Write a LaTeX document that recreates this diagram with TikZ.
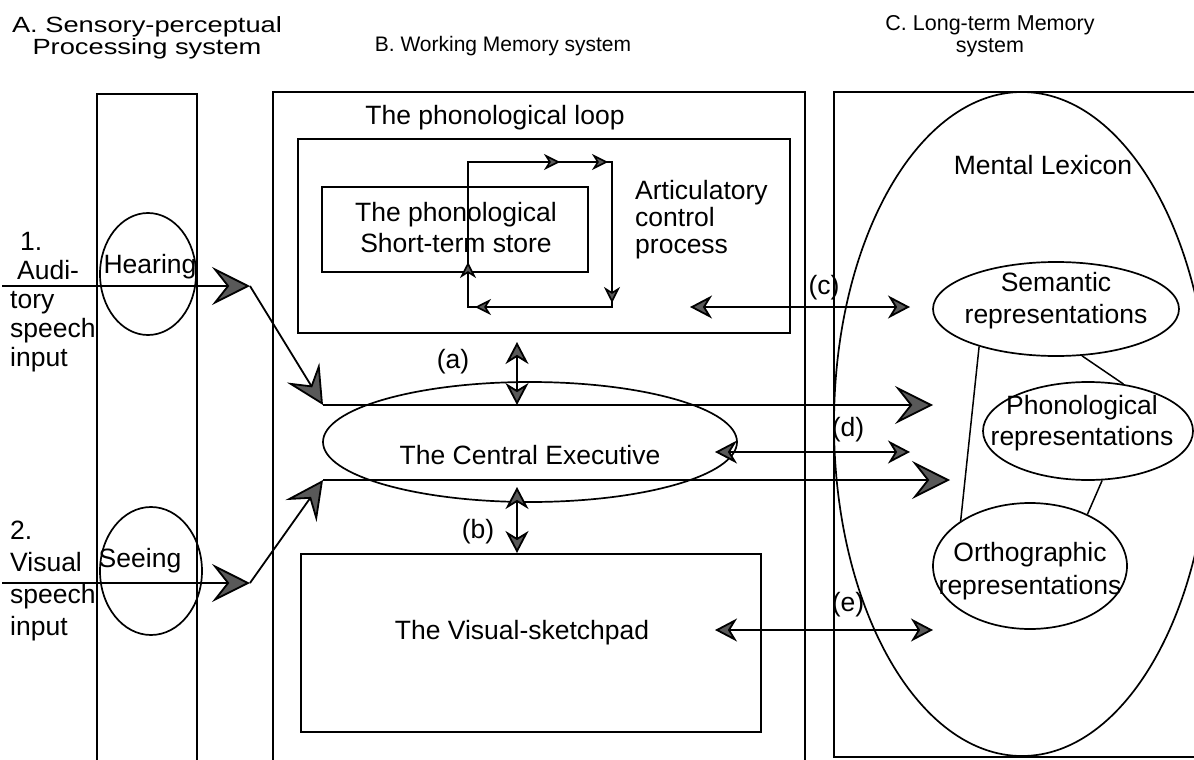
\documentclass[tikz,border=0pt]{standalone}
\usepackage{fontspec}
\setmainfont{Liberation Sans}
\newfontfamily\hdrfont{Liberation Sans}[FakeStretch=1.24]
\usetikzlibrary{arrows.meta,shapes.geometric}
\tikzset{
  ln/.style={line width=1.8pt},
  bigtip/.tip={Stealth[length=38pt,width=38pt,inset=15pt,fill=black!65]},
  midtip/.tip={Stealth[length=22pt,width=23pt,inset=7pt,fill=black!65]},
  smalltip/.tip={Stealth[length=16pt,width=16pt,inset=5pt,fill=black!65]},
  txt/.style={font=\fontsize{26.5}{31}\selectfont, inner sep=0pt, align=center},
  hdr/.style={font=\fontsize{21.5}{22}\selectfont, inner sep=0pt, align=center},
  ell/.style={ellipse, draw, line width=1.7pt, inner sep=0pt},
  box/.style={rectangle, draw, line width=1.8pt, inner sep=0pt},
}
\begin{document}
\begin{tikzpicture}[x=1pt,y=-1pt]
\useasboundingbox (0,0) rectangle (1194,760);
\clip (0,0) rectangle (1194,760);
\fill[white] (0,0) rectangle (1194,760);

% headers
\node[hdr, font=\hdrfont\fontsize{22}{22}\selectfont] (hA) at (147,38) {A. Sensory-perceptual\\Processing system};
\node[hdr, font=\fontsize{21}{22}\selectfont] (hB) at (503,46) {B. Working Memory system};
\node[hdr] (hC) at (990,36) {C. Long-term Memory\\system};

% column frames
\draw[ln] (97,770) -- (97,94) -- (197,94) -- (197,770);
\draw[ln] (273,770) -- (273,92) -- (805,92) -- (805,770);
\draw[ln] (1200,92) -- (834,92) -- (834,757) -- (1200,757);

% working memory boxes
\node[box, minimum width=492pt, minimum height=194pt] (loop) at (544,236) {};
\node[txt] (looplbl) at (495,118) {The phonological loop};
\node[box, minimum width=266pt, minimum height=85pt] (store) at (455,229.5) {};
\node[txt] (storelbl) at (456,228) {The phonological\\Short-term store};
\node[txt, anchor=west, align=left, font=\fontsize{26.5}{27}\selectfont] (artic) at (635,220) {Articulatory\\control\\process};
\node[box, minimum width=460pt, minimum height=178pt] (vsp) at (531,643) {};
\node[txt] (vsplbl) at (522,633) {The Visual-sketchpad};
\node[ell, minimum width=414pt, minimum height=120pt] (ce) at (530,442) {};
\node[txt] (celbl) at (530,455) {The Central Executive};

% rehearsal loop
\coordinate (lp1) at (468,162);
\coordinate (lp2) at (612,162);
\coordinate (lp3) at (612,307);
\coordinate (lp4) at (468,307);
\draw[line width=1.6pt] (lp1) -- (lp2) -- (lp3) -- (lp4) -- cycle;
\draw[line width=1.6pt,-smalltip] (535,162) -- (560,162);
\draw[line width=1.6pt,-smalltip] (585,162) -- (608,162);
\draw[line width=1.6pt,-smalltip] (612,280) -- (612,303);
\draw[line width=1.6pt,-smalltip] (500,307) -- (475,307);
\draw[line width=1.6pt,-smalltip] (468,285) -- (468,262);

% sensory column
\node[ell, minimum width=96pt, minimum height=122pt] (hear) at (148,274) {};
\node[txt] (hearlbl) at (150,267) {Hearing};
\node[ell, minimum width=102pt, minimum height=128pt] (see) at (151,571) {};
\node[txt] (seelbl) at (140,561) {Seeing};
\node[txt, anchor=west, align=left, font=\fontsize{26.5}{29}\selectfont] (in1lbl) at (10,302) {\hspace{10pt}1.\\\hspace{7pt}Audi-\\tory\\speech\\input};
\node[txt, anchor=west, align=left, font=\fontsize{26.5}{32}\selectfont] (in2lbl) at (10,581) {2.\\Visual\\speech\\input};

% long-term memory
\node[ell, minimum width=376pt, minimum height=664pt] (lex) at (1022,424) {};
\node[txt] (lexlbl) at (1043,165) {Mental Lexicon};
\node[ell, minimum width=246pt, minimum height=94pt] (sem) at (1056,309) {};
\node[txt, font=\fontsize{26.5}{32}\selectfont] (semlbl) at (1056,301) {Semantic\\representations};
\node[ell, minimum width=210pt, minimum height=98pt] (pho) at (1088,431) {};
\node[txt, font=\fontsize{26.5}{31}\selectfont] (pholbl) at (1082,423) {Phonological\\representations};
\node[ell, minimum width=194pt, minimum height=126pt] (ort) at (1030,566) {};
\node[txt, font=\fontsize{26.5}{33}\selectfont] (ortlbl) at (1030,571) {Orthographic\\representations};
\draw[line width=1.5pt] (sem.206) -- (ort.147);
\draw[line width=1.5pt] (sem.299) -- (pho.53);
\draw[line width=1.5pt] (pho.286) -- (ort.42);

% input routes
\coordinate (in1) at (2,286);
\coordinate (j1) at (250,286);
\coordinate (k1) at (323,405);
\coordinate (l1) at (933,405);
\coordinate (in2) at (2,583);
\coordinate (j2) at (250,583);
\coordinate (k2) at (323,480);
\coordinate (l2) at (950,480);
\draw[ln,-bigtip] (in1) -- (j1);
\draw[ln,-bigtip] (j1) -- (k1);
\draw[ln,-bigtip] (k1) -- (l1);
\draw[ln,-bigtip] (in2) -- (j2);
\draw[ln,-bigtip] (j2) -- (k2);
\draw[ln,-bigtip] (k2) -- (l2);

% two-way links
\coordinate (a1) at (517,342);
\coordinate (a2) at (517,405);
\coordinate (b1) at (517,487);
\coordinate (b2) at (517,553);
\coordinate (c1) at (690,307);
\coordinate (c2) at (910,307);
\coordinate (d1) at (715,452);
\coordinate (d2) at (910,452);
\coordinate (e1) at (715,630);
\coordinate (e2) at (933,630);
\draw[ln,midtip-midtip] (a1) -- (a2);
\draw[ln,midtip-midtip] (b1) -- (b2);
\draw[ln,midtip-midtip] (c1) -- (c2);
\draw[ln,midtip-midtip] (d1) -- (d2);
\draw[ln,midtip-midtip] (e1) -- (e2);
\node[txt] (alb) at (453,362) {(a)};
\node[txt] (blb) at (478,532) {(b)};
\node[txt] (clb) at (824,288) {(c)};
\node[txt] (dlb) at (848,430) {(d)};
\node[txt] (elb) at (848,605) {(e)};
\end{tikzpicture}
\end{document}
